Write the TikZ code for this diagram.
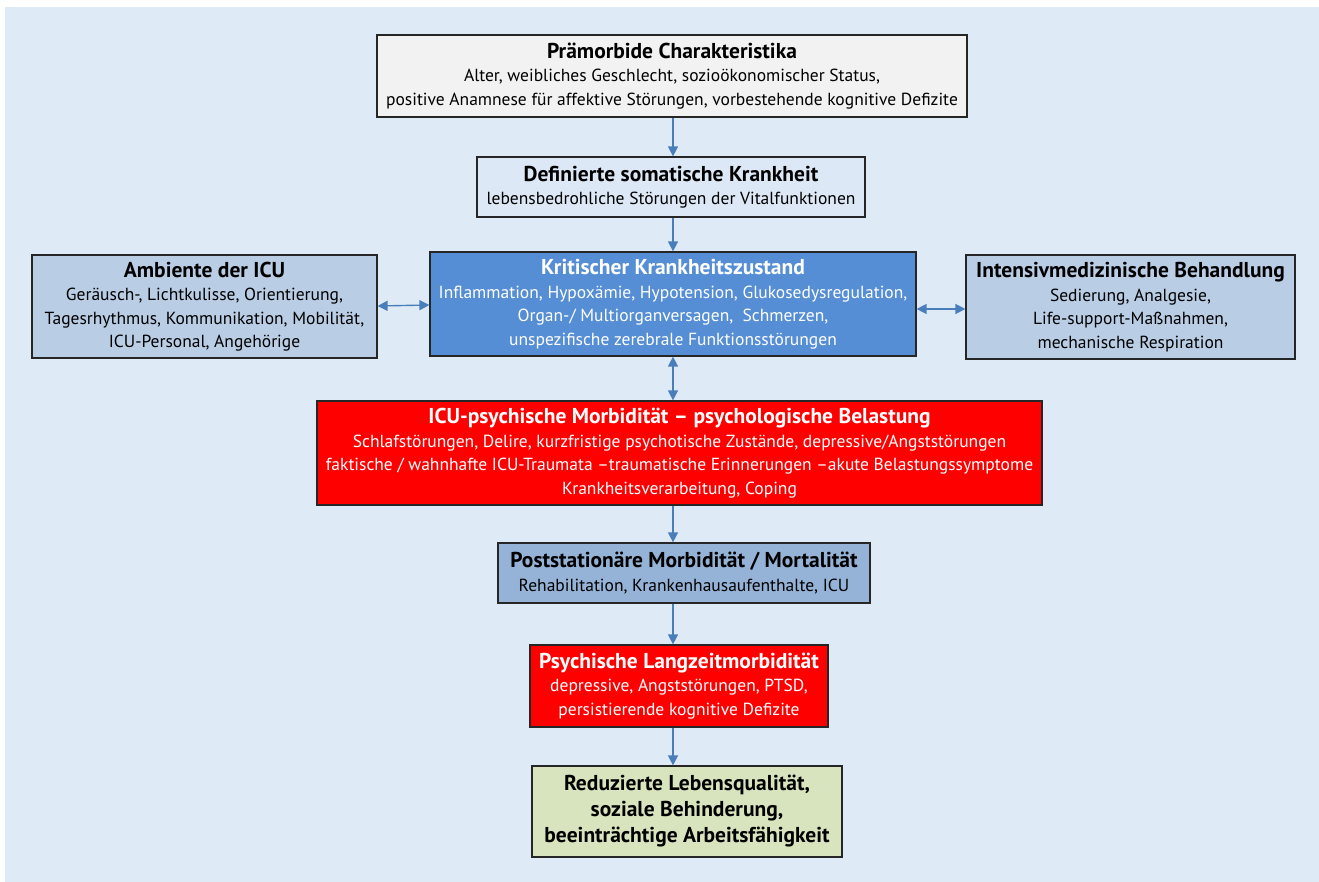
\documentclass[tikz,border=0pt]{standalone}
\usepackage{fontspec}
\setmainfont{PT Sans}
\usetikzlibrary{arrows.meta}
\definecolor{bgblue}{HTML}{DEEBF7}
\definecolor{greybox}{HTML}{F2F2F2}
\definecolor{paleblue}{HTML}{DCE8F5}
\definecolor{midblue}{HTML}{B9CDE5}
\definecolor{strongblue}{HTML}{558ED5}
\definecolor{postblue}{HTML}{95B3D7}
\definecolor{redbox}{HTML}{FF0000}
\definecolor{greenbox}{HTML}{D7E4BD}
\definecolor{arrowblue}{HTML}{4A7EBB}
\definecolor{edge}{HTML}{262626}
\newcommand{\ttl}{\fontsize{21.5}{23.5}\selectfont\bfseries}
\newcommand{\bdy}{\fontsize{17.5}{23.5}\selectfont}
\tikzset{
  box/.style={draw=edge, line width=1.2pt, align=center, inner sep=0pt, text=black, font=\bdy},
  arr/.style={draw=arrowblue, line width=1.4pt, -{Triangle[length=10pt,width=10pt]}},
  darr/.style={draw=arrowblue, line width=1.4pt, {Triangle[length=10pt,width=10pt]}-{Triangle[length=10pt,width=10pt]}}
}
\begin{document}
\begin{tikzpicture}[x=1pt,y=-1pt]
\useasboundingbox (0,0) rectangle (1319,882);
\fill[white] (0,0) rectangle (1319,882);
\fill[bgblue] (5,7) rectangle (1319,882);
\coordinate (ax) at (673,0);

\node[box, fill=greybox, minimum width=590pt, minimum height=82pt] (b1) at (672,76)
  {{\ttl Prämorbide Charakteristika}\\ Alter, weibliches Geschlecht, sozioökonomischer Status,\\ positive Anamnese für affektive Störungen, vorbestehende kognitive Defizite};

\node[box, fill=paleblue, minimum width=388pt, minimum height=60pt] (b2) at (671,187)
  {{\ttl Definierte somatische Krankheit}\\ lebensbedrohliche Störungen der Vitalfunktionen};

\node[box, fill=midblue, minimum width=345pt, minimum height=103pt] (b3) at (204.5,306.5)
  {{\ttl Ambiente der ICU}\\ Geräusch-, Lichtkulisse, Orientierung,\\ Tagesrhythmus, Kommunikation, Mobilität,\\ ICU-Personal, Angehörige};

\node[box, fill=strongblue, text=white, minimum width=486pt, minimum height=104pt] (b4) at (673,304)
  {{\ttl Kritischer Krankheitszustand}\\ Inflammation, Hypoxämie, Hypotension, Glukosedysregulation,\\ Organ-/ Multiorganversagen,\ \ Schmerzen,\\ unspezifische zerebrale Funktionsstörungen};

\node[box, fill=midblue, minimum width=329pt, minimum height=104pt] (b5) at (1130.5,307)
  {{\ttl Intensivmedizinische Behandlung}\\ Sedierung, Analgesie,\\ Life-support-Maßnahmen,\\ mechanische Respiration};

\node[box, fill=redbox, text=white, minimum width=725pt, minimum height=104pt] (b6) at (679.5,453)
  {{\ttl ICU-psychische Morbidität – psychologische Belastung}\\ Schlafstörungen, Delire, kurzfristige psychotische Zustände, depressive/Angststörungen\\ faktische / wahnhafte ICU-Traumata –traumatische Erinnerungen –akute Belastungssymptome\\ Krankheitsverarbeitung, Coping};

\node[box, fill=postblue, minimum width=372pt, minimum height=60pt] (b7) at (684,573)
  {{\ttl Poststationäre Morbidität / Mortalität}\\ Rehabilitation, Krankenhausaufenthalte, ICU};

\node[box, fill=redbox, text=white, minimum width=298pt, minimum height=82pt] (b8) at (679,686)
  {{\ttl Psychische Langzeitmorbidität}\\ depressive, Angststörungen, PTSD,\\ persistierende kognitive Defizite};

\node[box, fill=greenbox, minimum width=310pt, minimum height=91pt, font=\fontsize{21.5}{26}\selectfont\bfseries] (b9) at (687,811.5)
  {Reduzierte Lebensqualität,\\ soziale Behinderung,\\ beeinträchtige Arbeitsfähigkeit};

\draw[arr] (b1.south -| ax) -- (b2.north -| ax);
\draw[arr] (b2.south -| ax) -- (b4.north -| ax);
\draw[darr] (b4.south -| ax) -- (b6.north -| ax);
\draw[arr] (b6.south -| ax) -- (b7.north -| ax);
\draw[arr] (b7.south -| ax) -- (b8.north -| ax);
\draw[arr] (b8.south -| ax) -- (b9.north -| ax);
\draw[darr] (b3.east |- 0,306) -- (b4.west |- 0,305);
\draw[darr] (b4.east |- 0,309) -- (b5.west |- 0,309);
\end{tikzpicture}
\end{document}
